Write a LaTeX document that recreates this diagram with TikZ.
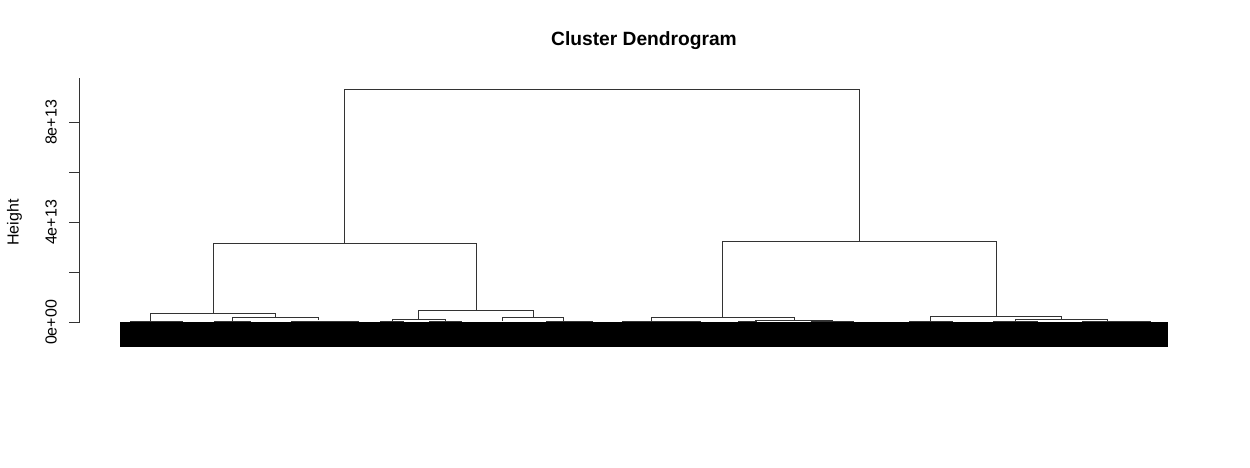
\documentclass[tikz,border=0pt]{standalone}
\usepackage{fontspec}
\setmainfont{Liberation Sans}

\begin{document}
\begin{tikzpicture}[x=1pt, y=-1pt, line width=0.8pt,
  link/.style={draw=black!80},
  ticklabel/.style={rotate=90, anchor=base, inner sep=0pt, font=\fontsize{16}{19}\selectfont}]
  \useasboundingbox (0,0) rectangle (1250,467);

  % title
  \node[font=\fontsize{19.2}{23}\selectfont\bfseries, anchor=base] (title) at (644,45) {Cluster Dendrogram};

  % axis
  \draw[draw=black!80] (79,322.5) -- (79,78);
  \foreach \y in {322.5, 272.5, 222.5, 172.5, 122.5} {
    \draw[draw=black!80] (69,\y) -- (79,\y);
  }
  \foreach \y/\lab/\nm in {322.5/0e+00/tzero, 222.5/4e+13/tfour, 122.5/8e+13/teight} {
    \node[ticklabel] (\nm) at (56.5,\y) {\lab};
  }
  \node[ticklabel] (ylabel) at (18.5,222.5) {Height};

  % merges
  \foreach \xa/\ya/\xb/\yb/\h in {344/243/859/241/89, 213/313/476/310.3/243,
      722.7/317.3/996/316/241, 150/321/275.3/317/313, 418.7/319.7/533.3/317.7/310.3,
      651.3/321/794/320/317.3, 930.3/321/1061.3/319.3/316, 232/321/318.7/320/317,
      392/321/445/321/319.7, 502.7/321/563.3/321/317.7, 755.7/321/832.3/321/320,
      1015/321/1107.3/321/319.3} {
    \draw[link] (\xa,\ya) -- (\xa,\h) -- (\xb,\h) -- (\xb,\yb);
  }

  % low merges
  \foreach \xa/\xb in {130/170, 158/182, 214/250, 291/346, 332/358, 380/403,
      429/461, 546/580, 569/592, 622/680, 680/700, 738/756, 811/832, 832/853,
      909/952, 993/1037, 1082/1133, 1133/1150} {
    \draw[link] (\xa,322) -- (\xa,321) -- (\xb,321) -- (\xb,322);
  }

  % leaves
  \fill (120,322) rectangle (1168,347);
\end{tikzpicture}
\end{document}
